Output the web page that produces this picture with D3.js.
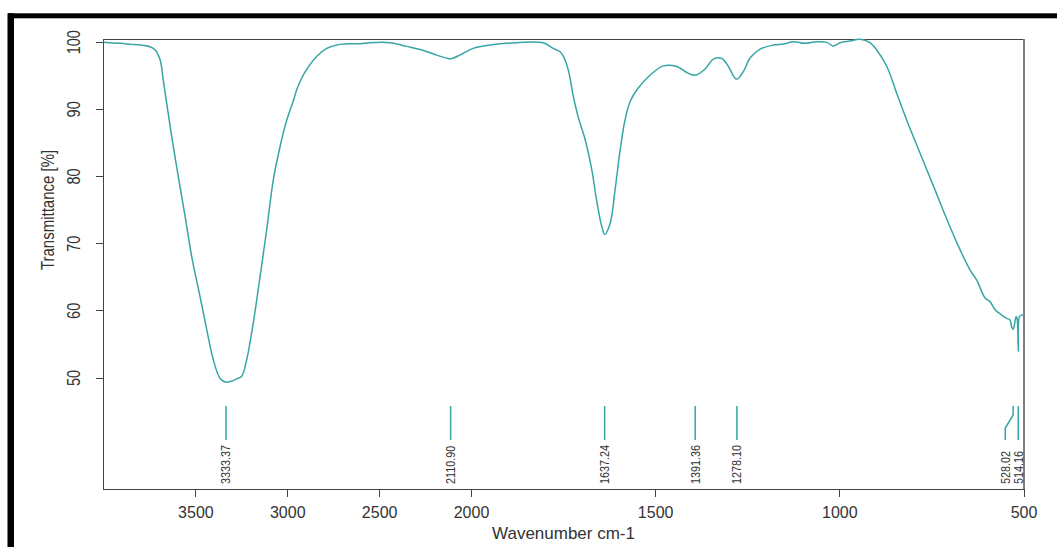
<!DOCTYPE html>
<html>
<head>
	<title>IR spectrum</title>
	<script type="text/javascript" src="https://d3js.org/d3.v7.min.js"></script>
	<style type="text/css">
		body { margin: 0; background: white; }
		text { font-family: "Liberation Sans", Arial, sans-serif; fill: #333; }
		.axis line { stroke: #444; shape-rendering: crispEdges; }
		.axis path { display: none; }
	</style>
</head>
<body>
	<script type="text/javascript">
		// spectrum (wavenumber cm-1, transmittance %)
		var wavenumbers = [4000, 3950, 3900, 3874, 3850, 3800, 3747, 3720, 3692, 3675, 3656, 3629, 3593, 3556, 3520, 3475, 3438, 3402, 3366, 3333, 3300, 3275, 3248, 3221, 3185, 3148, 3112, 3076, 3039, 3003, 2967, 2949, 2931, 2903, 2840, 2785, 2713, 2604, 2550, 2441, 2350, 2260, 2187, 2124, 2110, 2060, 1994, 1948, 1876, 1804, 1777, 1758, 1749, 1736, 1722, 1709, 1690, 1672, 1659, 1645, 1637, 1622, 1609, 1595, 1582, 1568, 1546, 1514, 1478, 1441, 1414, 1392, 1365, 1342, 1319, 1301, 1279, 1261, 1242, 1215, 1179, 1152, 1125, 1093, 1062, 1034, 1016, 998, 971, 944, 917, 899, 871, 844, 817, 786, 740, 713, 672, 645, 627, 604, 591, 577, 559, 546, 537, 532, 528, 520, 517, 514, 511, 505, 500];
		var transmittance = [99.9, 99.8, 99.75, 99.65, 99.6, 99.5, 99.25, 98.8, 97.3, 94.3, 90.8, 85.9, 79.9, 74.0, 68.0, 62.1, 57.1, 52.6, 49.9, 49.3, 49.5, 49.8, 50.2, 52.6, 58.1, 65.0, 72.0, 79.4, 84.4, 88.3, 91.2, 92.8, 94.0, 95.5, 97.8, 99.0, 99.6, 99.7, 99.85, 99.85, 99.3, 98.7, 98.0, 97.5, 97.45, 98.0, 99.0, 99.5, 99.85, 99.85, 99.0, 98.5, 97.8, 95.8, 91.8, 88.8, 85.4, 80.9, 76.4, 72.5, 71.3, 73.0, 77.9, 83.9, 88.3, 91.1, 93.1, 95.0, 96.4, 96.3, 95.4, 95.0, 95.9, 97.4, 97.5, 96.3, 94.4, 95.5, 97.6, 98.9, 99.5, 99.66, 100, 99.76, 100, 99.9, 99.36, 99.85, 100.1, 100.36, 99.85, 98.8, 96.3, 92.3, 88.3, 84.1, 77.9, 74.2, 69.0, 66.0, 64.5, 61.8, 61.3, 60.1, 59.3, 58.8, 58.6, 57.5, 57.2, 59.1, 58.6, 53.9, 59.1, 59.3, 59.3];

		var peaks = [3333.37, 2110.90, 1637.24, 1391.36, 1278.10, 528.02, 514.16];

		var x_ticks = [3500, 3000, 2500, 2000, 1500, 1000, 500];
		var y_ticks = [50, 60, 70, 80, 90, 100];

		var outer_width = 1057;
		var outer_height = 547;
		var margin = {top: 39, right: 33.5, bottom: 58, left: 103.5};
		var plot_right = outer_width - margin.right;
		var plot_bottom = outer_height - margin.bottom;

		var line_color = "#38a5a5";

		var svg = d3.select("body")
					.append("svg")
					.attr("width", outer_width)
					.attr("height", outer_height)
					.style("background", "white");

		// black frame round the picture
		svg.append("rect").attr("x", 8).attr("y", 13.3).attr("width", outer_width - 8).attr("height", 5).style("fill", "black");
		svg.append("rect").attr("x", 7.5).attr("y", 13.3).attr("width", 6.5).attr("height", outer_height - 13).style("fill", "black");

		// scale is split at 2000 like the spectrometer software does
		var xScale = d3.scaleLinear()
						.domain([4000, 2000, 500])
						.range([margin.left, 471, plot_right]);

		var yScale = d3.scaleLinear()
						.domain([33.4, 100.4])
						.range([plot_bottom, margin.top]);

		var xaxis = d3.axisBottom(xScale).tickValues(x_ticks).tickSize(8).tickFormat(d3.format("d"));
		var yaxis = d3.axisLeft(yScale).tickValues(y_ticks).tickSize(8);

		svg.append("g")
			.attr("class", "axis")
			.attr("transform", "translate(0," + plot_bottom + ")")
			.call(xaxis)
			.selectAll("text")
			.attr("y", 29)
			.attr("dy", null)
			.style("font-size", "16px")
			.style("fill", "#333");

		svg.append("g")
			.attr("class", "axis")
			.attr("transform", "translate(" + margin.left + ",0)")
			.call(yaxis)
			.selectAll("text")
			.attr("x", 0)
			.attr("dy", null)
			.attr("text-anchor", "middle")
			.attr("dominant-baseline", "central")
			.attr("transform", "translate(-30,0) scale(1.25,1) rotate(-90)")
			.style("font-size", "14.5px")
			.style("fill", "#333");

		// plot box
		svg.append("rect")
			.attr("x", margin.left)
			.attr("y", margin.top)
			.attr("width", plot_right - margin.left)
			.attr("height", plot_bottom - margin.top)
			.style("fill", "none")
			.style("stroke", "#444")
			.style("shape-rendering", "crispEdges");
		svg.append("line")
			.attr("x1", plot_right + 0.5).attr("x2", plot_right + 0.5)
			.attr("y1", margin.top).attr("y2", plot_bottom)
			.style("stroke", "#808080")
			.style("stroke-width", 2);

		var spectrum = wavenumbers.map(function(w, i){ return {w: w, t: transmittance[i]}; });

		var line = d3.line()
					.x(function(d){ return xScale(d.w); })
					.y(function(d){ return yScale(d.t); })
					.curve(d3.curveCatmullRom.alpha(0.5));

		svg.append("path")
			.datum(spectrum)
			.attr("d", line)
			.style("fill", "none")
			.style("stroke", line_color)
			.style("stroke-width", 1.5);

		// peak picks, labels pushed left when they would overlap
		var picks = peaks.map(function(p){ return {p: p, x: xScale(p)}; })
						.sort(function(a, b){ return b.x - a.x; });
		var last_x = Infinity;
		picks.forEach(function(d){
			d.lx = Math.min(d.x, last_x - 13);
			last_x = d.lx;
		});

		var top_y = 406, knee1 = 415, knee2 = 428, end_y = 440, label_y = 484;

		svg.selectAll(".pick")
			.data(picks)
			.enter()
			.append("path")
			.attr("class", "pick")
			.attr("d", function(d){
				if (d.lx == d.x) return "M" + d.x + "," + top_y + "V" + end_y;
				return "M" + d.x + "," + top_y + "V" + knee1 + "L" + d.lx + "," + knee2 + "V" + end_y;
			})
			.style("fill", "none")
			.style("stroke", line_color)
			.style("stroke-width", 1.5);

		svg.selectAll(".pick-label")
			.data(picks)
			.enter()
			.append("text")
			.attr("class", "pick-label")
			.attr("transform", function(d){ return "translate(" + d.lx + "," + label_y + ") scale(1.25,1) rotate(-90)"; })
			.attr("dominant-baseline", "central")
			.style("font-size", "10.8px")
			.text(function(d){ return d3.format(".2f")(d.p); });

		svg.append("text")
			.attr("x", (margin.left + plot_right) / 2)
			.attr("y", 539)
			.attr("text-anchor", "middle")
			.style("font-size", "17px")
			.text("Wavenumber cm-1");

		svg.append("text")
			.attr("transform", "translate(47.5,210) scale(1.25,1) rotate(-90)")
			.attr("text-anchor", "middle")
			.attr("dominant-baseline", "central")
			.style("font-size", "15px")
			.text("Transmittance [%]");
	</script>
</body>
</html>
